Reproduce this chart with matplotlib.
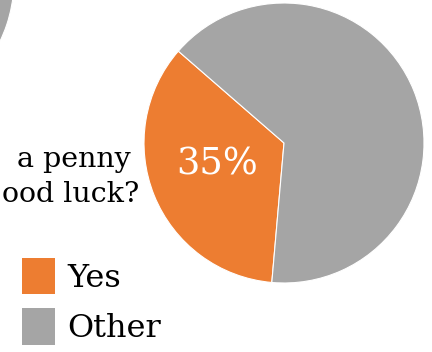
import matplotlib
matplotlib.use("Agg")
import matplotlib.pyplot as plt
import numpy as np

# Data
categories = ["Yes", "Other"]
values = [35, 65]
prev_values = [30, 70]          # neighbouring (cropped) pie, only its grey part is visible
colors = ["#ED7D31", "#A5A5A5"]
question_lines = ["a penny", "ood luck?"]

FONT = "DejaVu Serif"
W, H = 432, 352
fig = plt.figure(figsize=(W / 100, H / 100), dpi=100)

def px_axes(cx, cy, r):
    """axes whose [-1,1] box maps to a circle of radius r centred at (cx, cy) in pixels from top-left"""
    return fig.add_axes([(cx - r) / W, (H - cy - r) / H, 2 * r / W, 2 * r / H])

# Cropped neighbouring pie (top-left)
ax0 = px_axes(-127, -20, 141)
ax0.pie(prev_values, colors=colors, startangle=139, counterclock=True,
        wedgeprops=dict(edgecolor="white", linewidth=0.8))
ax0.set_xlim(-1, 1); ax0.set_ylim(-1, 1); ax0.set_aspect("equal")
ax0.axis("off")

# Main pie
ax = px_axes(284, 143, 140)
wedges, _ = ax.pie(values, colors=colors, startangle=139, counterclock=True,
                   wedgeprops=dict(edgecolor="white", linewidth=0.8))
ax.set_xlim(-1, 1); ax.set_ylim(-1, 1); ax.set_aspect("equal")
ax.axis("off")

w = wedges[0]
mid = np.deg2rad((w.theta1 + w.theta2) / 2 - 4)
ax.text(0.5 * np.cos(mid), 0.5 * np.sin(mid), f"{values[0]}%",
        color="white", fontsize=26.5, family=FONT, ha="center", va="center")

# Question text (cropped at the left edge in the reference)
fig.text(131 / W, 1 - 167 / H, question_lines[0], ha="right", va="baseline",
         fontsize=20.5, family=FONT, color="black")
fig.text(139 / W, 1 - 202 / H, question_lines[1], ha="right", va="baseline",
         fontsize=20.5, family=FONT, color="black")

# Legend
leg = fig.legend(wedges, categories, loc="upper left",
                 bbox_to_anchor=(22 / W, 1 - 258 / H), frameon=False,
                 prop=dict(family=FONT, size=23),
                 borderpad=0, borderaxespad=0,
                 handlelength=1.03, handleheight=1.36, handletextpad=0.4,
                 labelspacing=0.45)
for h in leg.legend_handles:
    h.set_edgecolor("none")

fig.savefig("out.png", dpi=100)
